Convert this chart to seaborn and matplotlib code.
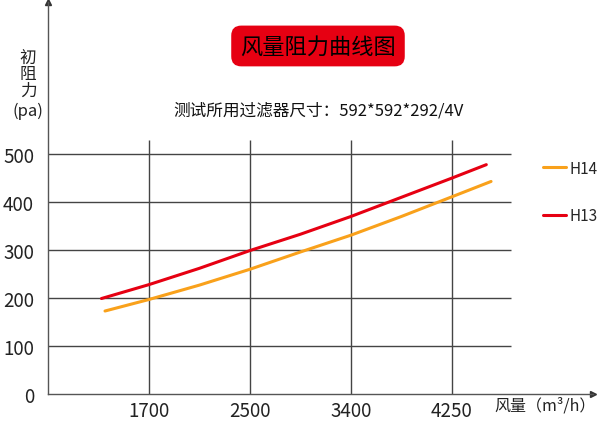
import numpy as np
import pandas as pd
import matplotlib
matplotlib.use("Agg")
import matplotlib.pyplot as plt
import seaborn as sns

# ---------------------------------------------------------------
# Data
# ---------------------------------------------------------------
tick_flows = [1700, 2500, 3400, 4250]
y_ticks = [0, 100, 200, 300, 400, 500]

h13_flow = [1300, 1700, 2100, 2500, 2950, 3400, 3825, 4250, 4540]
h13_resistance = [199, 228, 262, 299, 333, 370, 410, 450, 478]

h14_flow = [1330, 1700, 2100, 2500, 2950, 3400, 3825, 4250, 4580]
h14_resistance = [173, 197, 227, 260, 296, 331, 370, 411, 443]

grades = ["H14", "H13"]
colors = {"H14": "#F9A11B", "H13": "#E60012"}

# the x axis is spaced evenly by tick, not by value
anchor_flows = [850] + tick_flows + [5100]
anchor_pos = list(range(len(anchor_flows)))


def flow_to_pos(flow):
    return np.interp(flow, anchor_flows, anchor_pos)


def build_frame():
    df13 = pd.DataFrame({"flow": h13_flow, "resistance": h13_resistance, "grade": "H13"})
    df14 = pd.DataFrame({"flow": h14_flow, "resistance": h14_resistance, "grade": "H14"})
    df = pd.concat([df14, df13], ignore_index=True)
    df["pos"] = flow_to_pos(df["flow"])
    return df


def plot_chart(df):
    sns.set_style("white")
    plt.rcParams["font.family"] = ["Noto Sans CJK SC", "DejaVu Sans"]

    fig = plt.figure(figsize=(6.0, 4.31), dpi=100)
    ax = fig.add_axes([0.08, 0.0835, 0.908, 0.9095])

    grid_color = "#444444"
    tick_pos = flow_to_pos(tick_flows)
    ax.hlines(y_ticks[1:], 0, 4.584, color=grid_color, lw=1.0, zorder=1)
    ax.vlines(tick_pos, 0, 529, color=grid_color, lw=1.0, zorder=1)

    sns.lineplot(data=df, x="pos", y="resistance", hue="grade", hue_order=grades,
                 palette=colors, linewidth=2.2, ax=ax, zorder=3)

    ax.set_xlim(0, 5.396)
    ax.set_ylim(0, 817)
    ax.set_xticks(tick_pos)
    ax.set_xticklabels([str(t) for t in tick_flows])
    ax.set_yticks(y_ticks)
    ax.set_yticklabels([str(t) for t in y_ticks])
    ax.tick_params(axis="both", length=0, labelsize=13.5, colors="#222222")
    ax.tick_params(axis="y", pad=10)
    ax.tick_params(axis="x", pad=4)
    ax.set_xlabel("")
    ax.set_ylabel("")

    for side in ["top", "right"]:
        ax.spines[side].set_visible(False)
    for side in ["left", "bottom"]:
        ax.spines[side].set_color("#555555")
        ax.spines[side].set_linewidth(1.0)

    # arrow heads at the axis ends
    ax.plot(1, 0, marker=">", color="#333333", ms=5, transform=ax.transAxes, clip_on=False)
    ax.plot(0, 1, marker="^", color="#333333", ms=5, transform=ax.transAxes, clip_on=False)

    leg = ax.legend(loc="upper left", bbox_to_anchor=(0.905, 0.627), bbox_transform=fig.transFigure,
                    frameon=False, fontsize=11, handlelength=1.5, handletextpad=0.25,
                    labelspacing=2.0, borderpad=0, borderaxespad=0)
    for line in leg.get_lines():
        line.set_linewidth(2.2)

    # title box
    fig.text(0.53, 0.891, "风量阻力曲线图", ha="center", va="center", fontsize=16, color="black",
             bbox=dict(boxstyle="round,pad=0.4,rounding_size=0.45", fc="#E60012", ec="none"))
    fig.text(0.53, 0.742, "测试所用过滤器尺寸：592*592*292/4V", ha="center", va="center",
             fontsize=12, color="#111111")

    # axis titles
    for label, ypos in zip(["初", "阻", "力"], [0.865, 0.826, 0.787]):
        fig.text(0.047, ypos, label, ha="center", va="center", fontsize=12, color="#222222")
    fig.text(0.047, 0.742, "(pa)", ha="center", va="center", fontsize=12, color="#222222")
    fig.text(0.908, 0.058, "风量（m³/h）", ha="center", va="center", fontsize=11.5, color="#222222")

    fig.savefig("out.png", dpi=100)


def main():
    df = build_frame()
    plot_chart(df)


if __name__ == "__main__":
    main()
